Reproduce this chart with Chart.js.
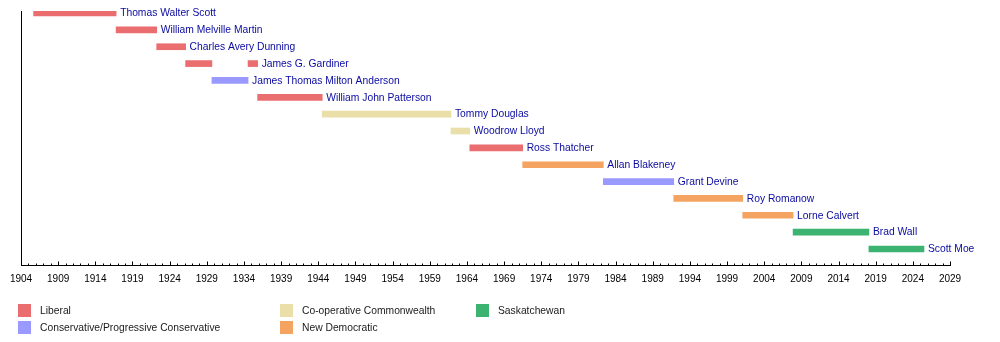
<!DOCTYPE html>
<html>
<head>
<meta charset="utf-8">
<script src="https://cdn.jsdelivr.net/npm/chart.js@4"></script>
<style>
  html, body { margin: 0; padding: 0; background: #fff; }
  #wrap { position: relative; width: 1000px; height: 342px; }
  #legend { position: absolute; left: 0; top: 0; width: 1000px; height: 342px; pointer-events: none;
            font-family: "Liberation Sans", Arial, sans-serif; font-size: 10.3px; color: #1a1a1a; }
  .li { position: absolute; height: 13px; line-height: 13px; white-space: nowrap; }
  .sw { position: absolute; left: 0; top: 0; width: 13px; height: 13px; }
  .tx { position: absolute; top: 0; }
</style>
</head>
<body>
<div id="wrap">
  <canvas id="c" width="1000" height="342"></canvas>
  <div id="legend"></div>
</div>
<script>
// ---- data ----
const premiers = [
  "Thomas Walter Scott", "William Melville Martin", "Charles Avery Dunning",
  "James G. Gardiner", "James Thomas Milton Anderson", "William John Patterson",
  "Tommy Douglas", "Woodrow Lloyd", "Ross Thatcher", "Allan Blakeney",
  "Grant Devine", "Roy Romanow", "Lorne Calvert", "Brad Wall", "Scott Moe"
];
// terms: premier, start (year), end (year), party
const termPremier = [
  "Thomas Walter Scott", "William Melville Martin", "Charles Avery Dunning",
  "James G. Gardiner", "James Thomas Milton Anderson", "James G. Gardiner",
  "William John Patterson", "Tommy Douglas", "Woodrow Lloyd", "Ross Thatcher",
  "Allan Blakeney", "Grant Devine", "Roy Romanow", "Lorne Calvert", "Brad Wall", "Scott Moe"
];
const termStart = [1905.70, 1916.80, 1922.26, 1926.15, 1929.69, 1934.55, 1935.84, 1944.53,
                   1961.85, 1964.39, 1971.50, 1982.35, 1991.83, 2001.11, 2007.89, 2018.09];
const termEnd   = [1916.80, 1922.26, 1926.15, 1929.69, 1934.55, 1935.84, 1944.53, 1961.85,
                   1964.39, 1971.50, 1982.35, 1991.83, 2001.11, 2007.89, 2018.09, 2025.50];
const termParty = ["Liberal", "Liberal", "Liberal", "Liberal", "Conservative/Progressive Conservative",
                   "Liberal", "Liberal", "Co-operative Commonwealth", "Co-operative Commonwealth",
                   "Liberal", "New Democratic", "Conservative/Progressive Conservative",
                   "New Democratic", "New Democratic", "Saskatchewan", "Saskatchewan"];
const parties = ["Liberal", "Conservative/Progressive Conservative", "Co-operative Commonwealth",
                 "New Democratic", "Saskatchewan"];
const partyColors = ["#EA6D6F", "#9999FF", "#EADFA9", "#F4A460", "#3CB371"];
const tickYears = [1904, 1909, 1914, 1919, 1924, 1929, 1934, 1939, 1944, 1949, 1954, 1959, 1964,
                   1969, 1974, 1979, 1984, 1989, 1994, 1999, 2004, 2009, 2014, 2019, 2024, 2029];

// ---- build ----
const colorOf = p => partyColors[parties.indexOf(p)];
const barData = termPremier.map((n, i) => ({ x: [termStart[i], termEnd[i]], y: premiers.indexOf(n) }));
const barColors = termParty.map(colorOf);
const FONT = '"Liberation Sans", Arial, sans-serif';

const labelPlugin = {
  id: 'barLabels',
  afterDatasetsDraw(chart) {
    const ctx = chart.ctx, xs = chart.scales.x, ys = chart.scales.y;
    ctx.save();
    ctx.font = '10.3px ' + FONT;
    ctx.fillStyle = '#0a0aa0';
    ctx.textBaseline = 'middle';
    ctx.textAlign = 'left';
    premiers.forEach((n, r) => {
      let end = -Infinity;
      termPremier.forEach((p, i) => { if (p === n) end = Math.max(end, termEnd[i]); });
      ctx.fillText(n, xs.getPixelForValue(end) + 4, ys.getPixelForValue(r) + 0.5);
    });
    ctx.restore();
  }
};
const tickPlugin = {
  id: 'inTicks',
  afterDraw(chart) {
    const ctx = chart.ctx, xs = chart.scales.x;
    const bottom = Math.round(chart.chartArea.bottom) + 0.5;
    ctx.save();
    ctx.strokeStyle = '#000';
    ctx.lineWidth = 1;
    ctx.beginPath();
    for (let v = tickYears[0]; v <= tickYears[tickYears.length - 1]; v++) {
      const x = Math.round(xs.getPixelForValue(v)) + 0.5;
      const len = tickYears.includes(v) ? 4 : 2;
      ctx.moveTo(x, bottom);
      ctx.lineTo(x, bottom - len);
    }
    ctx.stroke();
    ctx.restore();
  }
};

new Chart(document.getElementById('c'), {
  type: 'bar',
  data: {
    datasets: [{
      data: barData,
      backgroundColor: barColors,
      borderWidth: 0,
      barThickness: 6
    }]
  },
  options: {
    indexAxis: 'y',
    responsive: false,
    animation: false,
    events: [],
    layout: { padding: { left: 21, right: 50, top: 11, bottom: 49 } },
    plugins: { legend: { display: false }, tooltip: { enabled: false } },
    scales: {
      x: {
        type: 'linear',
        min: tickYears[0],
        max: tickYears[tickYears.length - 1],
        afterBuildTicks: axis => { axis.ticks = tickYears.map(v => ({ value: v })); },
        grid: { display: false, drawTicks: false },
        border: { display: true, color: '#000', width: 1 },
        ticks: { color: '#000', padding: 8, maxRotation: 0, autoSkip: false,
                 font: { family: FONT, size: 10 }, callback: v => String(v) }
      },
      y: {
        type: 'linear',
        reverse: true,
        offset: false,
        min: -0.12,
        max: 14.95,
        grid: { display: false, drawTicks: false },
        border: { display: true, color: '#000', width: 1 },
        ticks: { display: false }
      }
    }
  },
  plugins: [labelPlugin, tickPlugin]
});

// ---- HTML legend ----
const legendPos = [[18, 304], [18, 321], [280, 304], [280, 321], [476, 304]];
const lg = document.getElementById('legend');
parties.forEach((p, i) => {
  const d = document.createElement('div');
  d.className = 'li';
  d.style.left = legendPos[i][0] + 'px';
  d.style.top = legendPos[i][1] + 'px';
  d.innerHTML = '<span class="sw" style="background:' + partyColors[i] + '"></span><span class="tx" style="left:22px"></span>';
  d.querySelector('.tx').textContent = p;
  lg.appendChild(d);
});
</script>
</body>
</html>
